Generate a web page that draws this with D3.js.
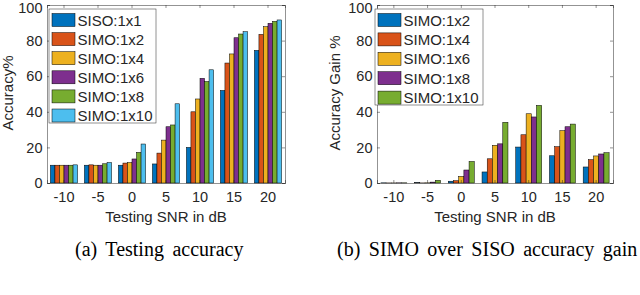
<!DOCTYPE html>
<html>
<head>
<meta charset="utf-8">
<script src="https://cdn.jsdelivr.net/npm/d3@7"></script>
<style>
  body { margin: 0; background: #fff; }
  svg { display: block; }
  .tick text { font-family: "Liberation Sans", Arial, sans-serif; font-size: 14.5px; fill: #262626; }
</style>
</head>
<body>
<div id="chart"></div>
<script>
var snr = ["-10", "-5", "0", "5", "10", "15", "20"];
var yTicks = [0, 20, 40, 60, 80, 100];

// (a) testing accuracy
var accNames = ["SISO:1x1", "SIMO:1x2", "SIMO:1x4", "SIMO:1x6", "SIMO:1x8", "SIMO:1x10"];
var accSISO  = [10, 10, 10, 10.7, 20, 52, 74.5];
var acc1x2   = [10, 10.2, 11.2, 16.8, 40, 67.4, 83.5];
var acc1x4   = [10, 10, 11.5, 24.1, 47.2, 72.5, 87.8];
var acc1x6   = [10, 10, 13.5, 31.6, 58.8, 81.6, 89.7];
var acc1x8   = [10, 10.8, 17.2, 32.6, 57, 83.7, 90.8];
var acc1x10  = [10.2, 11.5, 21.9, 44.5, 63.6, 85, 91.6];

// (b) SIMO over SISO gain
var gainNames = ["SIMO:1x2", "SIMO:1x4", "SIMO:1x6", "SIMO:1x8", "SIMO:1x10"];
var gain1x2  = [0.1, 0.2, 1.0, 6.2, 20.2, 15.3, 9];
var gain1x4  = [0.05, 0.05, 1.3, 13.6, 27.1, 20.4, 13.1];
var gain1x6  = [0.05, 0.1, 3.7, 21.2, 38.9, 29.4, 15.2];
var gain1x8  = [0.1, 0.5, 7.3, 22, 37.1, 31.6, 16.3];
var gain1x10 = [0.1, 1.5, 12.1, 34.1, 43.6, 33.1, 17];

var colors = ["#0072BD", "#D95319", "#EDB120", "#7E2F8E", "#77AC30", "#4DBEEE"];

var svg = d3.select("#chart").append("svg")
  .attr("width", 640)
  .attr("height", 295);

function drawPanel(opt) {
  var top = 5, bottom = 183;
  var x = d3.scaleBand().domain(snr).range([opt.left, opt.right]).padding(0);
  var groupW = x.bandwidth() * Math.min(0.8, opt.series.length / (opt.series.length + 1.5));
  var xs = d3.scaleBand().domain(d3.range(opt.series.length)).range([0, groupW]).padding(0);
  var y = d3.scaleLinear().domain([0, 100]).range([bottom, top]);

  var g = svg.append("g");

  // bars
  opt.series.forEach(function(vals, i) {
    g.selectAll(null)
      .data(vals)
      .enter()
      .append("rect")
        .attr("x", function(d, j) { return x(snr[j]) + (x.bandwidth() - groupW) / 2 + xs(i); })
        .attr("y", function(d) { return y(d); })
        .attr("width", xs.bandwidth())
        .attr("height", function(d) { return bottom - y(d); })
        .attr("fill", colors[i])
        .attr("stroke", "#000")
        .attr("stroke-width", 0.5);
  });

  // axes, ticks pointing inward like matlab
  var axL = g.append("g").attr("transform", "translate(" + opt.left + ",0)")
    .call(d3.axisLeft(y).tickValues(yTicks).tickSize(-3).tickPadding(4.5));
  // top label sits a bit lower so it is not clipped
  axL.selectAll(".tick text").filter(function(d) { return d === 100; }).attr("y", 2.5);
  var axR = g.append("g").attr("transform", "translate(" + opt.right + ",0)")
    .call(d3.axisRight(y).tickValues(yTicks).tickSize(-3).tickFormat(""));
  var axB = g.append("g").attr("transform", "translate(0," + bottom + ")")
    .call(d3.axisBottom(x).tickSize(-3).tickPadding(9));
  var axT = g.append("g").attr("transform", "translate(0," + top + ")")
    .call(d3.axisTop(x).tickSize(-3).tickFormat(""));
  [axL, axR, axB, axT].forEach(function(a) {
    a.selectAll("path, line").attr("stroke", "#262626").attr("stroke-width", 0.5);
  });

  // axis labels
  g.append("text")
    .attr("x", (opt.left + opt.right) / 2)
    .attr("y", 222)
    .attr("text-anchor", "middle")
    .style("font-family", "Liberation Sans, Arial, sans-serif")
    .style("font-size", "15px")
    .style("fill", "#262626")
    .text("Testing SNR in dB");

  g.append("text")
    .attr("transform", "translate(" + opt.ylabelX + "," + 93 + ")rotate(-90)")
    .attr("text-anchor", "middle")
    .style("font-family", "Liberation Sans, Arial, sans-serif")
    .style("font-size", "15px")
    .style("fill", "#262626")
    .text(opt.ylabel);

  // legend
  var lg = g.append("g");
  lg.append("rect")
    .attr("x", opt.legend.x).attr("y", 9)
    .attr("width", opt.legend.w).attr("height", opt.legend.h)
    .attr("fill", "#fff").attr("stroke", "#262626").attr("stroke-width", 0.5);
  opt.names.forEach(function(name, i) {
    var cy = 20 + i * opt.legend.step;
    lg.append("rect")
      .attr("x", opt.legend.x + 3).attr("y", cy - 6.5)
      .attr("width", 23).attr("height", 13)
      .attr("fill", colors[i]).attr("stroke", "#000").attr("stroke-width", 0.5);
    lg.append("text")
      .attr("x", opt.legend.x + 28.5).attr("y", cy + 5.5)
      .style("font-family", "Liberation Sans, Arial, sans-serif")
      .style("font-size", "15px")
      .style("fill", "#262626")
      .text(name);
  });

  // caption
  svg.append("text")
    .attr("x", opt.captionX)
    .attr("y", 256)
    .style("font-family", "Liberation Serif, Times New Roman, serif")
    .style("font-size", "20px")
    .style("word-spacing", "3.5px")
    .style("fill", "#000")
    .text(opt.caption);
}

drawPanel({
  left: 47, right: 285,
  series: [accSISO, acc1x2, acc1x4, acc1x6, acc1x8, acc1x10],
  names: accNames,
  ylabel: "Accuracy%",
  ylabelX: 13,
  legend: {x: 49, w: 107, h: 114, step: 19.1},
  caption: "(a) Testing accuracy",
  captionX: 75
});

drawPanel({
  left: 377, right: 613,
  series: [gain1x2, gain1x4, gain1x6, gain1x8, gain1x10],
  names: gainNames,
  ylabel: "Accuracy Gain %",
  ylabelX: 340,
  legend: {x: 375, w: 108, h: 96, step: 19.4},
  caption: "(b) SIMO over SISO accuracy gain",
  captionX: 337
});
</script>
</body>
</html>
